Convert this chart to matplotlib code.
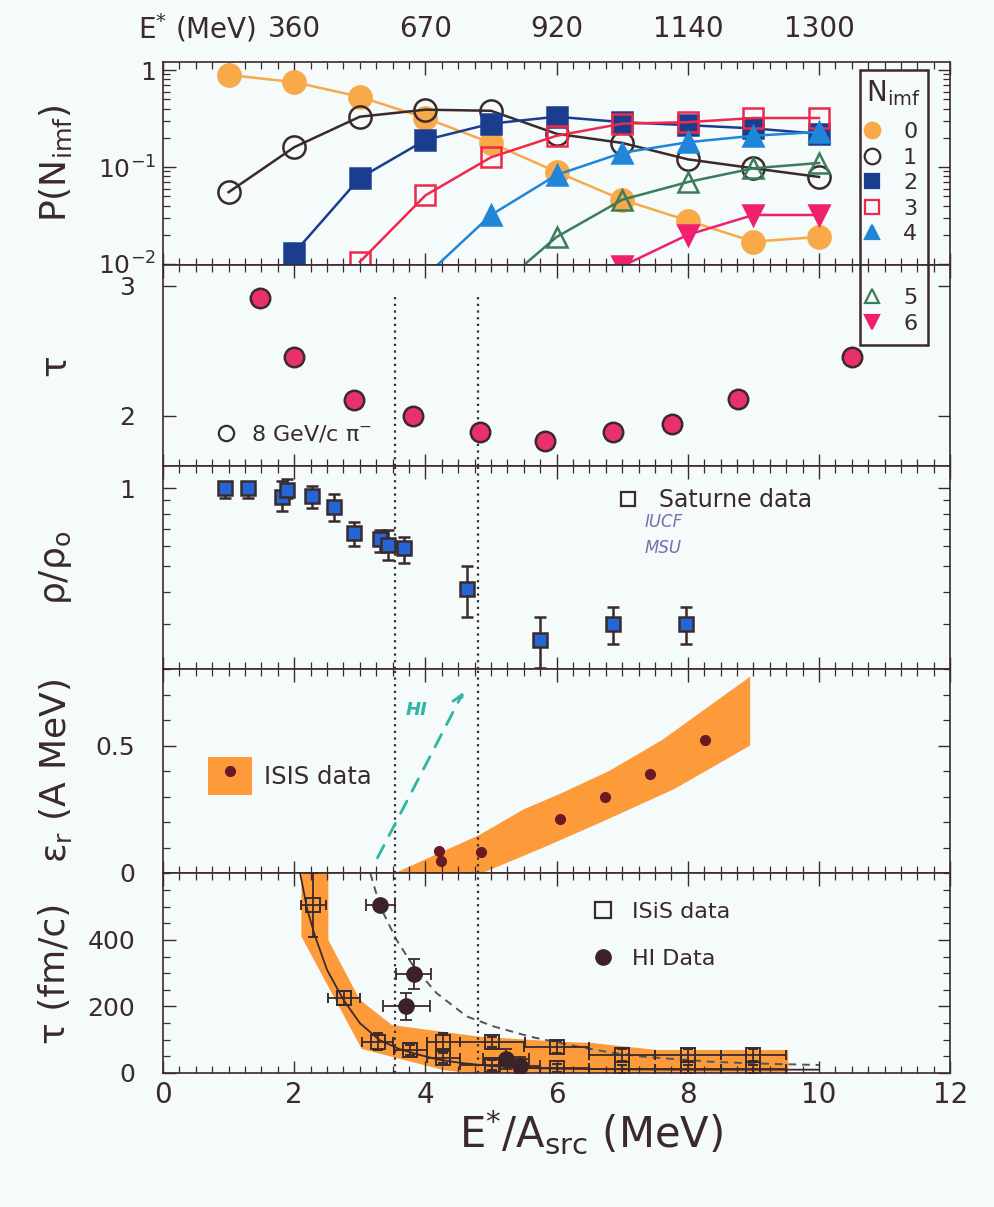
import matplotlib
matplotlib.use("Agg")
import matplotlib.pyplot as plt
import numpy as np
from matplotlib.lines import Line2D
from matplotlib.patches import Patch, Rectangle
from matplotlib.legend_handler import HandlerTuple
from matplotlib.ticker import MultipleLocator, LogLocator, NullFormatter, NullLocator

plt.rcParams['font.family'] = ['DejaVu Sans']
plt.rcParams['mathtext.default'] = 'regular'

INK = '#3b2a2c'
BG = '#f5fafa'
BAND = '#fd9a3a'

# ---------------- data ----------------
# top axis: E* (MeV) at E*/A positions
top_pos = [2, 4, 6, 8, 10]
top_labels = ['360', '670', '920', '1140', '1300']

# panel 1: P(N_imf)
n0_x = [1, 2, 3, 4, 5, 6, 7, 8, 9, 10]
n0_p = [0.89, 0.75, 0.53, 0.32, 0.177, 0.089, 0.046, 0.028, 0.017, 0.019]
n1_x = [1, 2, 3, 4, 5, 6, 7, 8, 9, 10]
n1_p = [0.055, 0.16, 0.33, 0.39, 0.38, 0.22, 0.177, 0.12, 0.097, 0.079]
n2_x = [2, 3, 4, 5, 6, 7, 8, 9, 10]
n2_p = [0.013, 0.077, 0.19, 0.28, 0.33, 0.29, 0.27, 0.25, 0.22]
n3_x = [3, 4, 5, 6, 7, 8, 9, 10]
n3_p = [0.0105, 0.051, 0.126, 0.21, 0.28, 0.29, 0.32, 0.32]
n4_x = [4, 5, 6, 7, 8, 9, 10]
n4_p = [0.0075, 0.032, 0.083, 0.14, 0.18, 0.21, 0.23]
n5_x = [5, 6, 7, 8, 9, 10]
n5_p = [0.005, 0.019, 0.046, 0.07, 0.097, 0.11]
n6_x = [7, 8, 9, 10]
n6_p = [0.0095, 0.020, 0.032, 0.032]
nimf_labels = ['0', '1', '2', '3', '4', '5', '6']

# panel 2: tau (8 GeV/c pi-)
tau_x = [1.48, 1.99, 2.91, 3.81, 4.83, 5.82, 6.86, 7.76, 8.76, 10.5]
tau_y = [2.91, 2.45, 2.12, 2.00, 1.88, 1.81, 1.88, 1.94, 2.13, 2.45]

# dotted guide lines
guide_x = [3.54, 4.80]

# panel 3: rho/rho0 (Saturne)
rho_x = [0.95, 1.30, 1.81, 1.89, 2.27, 2.60, 2.91, 3.30, 3.43, 3.68, 4.64, 5.75, 6.86, 7.97]
rho_y = [1.00, 1.00, 0.93, 0.99, 0.935, 0.85, 0.673, 0.636, 0.604, 0.587, 0.409, 0.26, 0.30, 0.30]
rho_lo = [0.92, 0.92, 0.82, 0.915, 0.84, 0.75, 0.60, 0.57, 0.53, 0.515, 0.32, 0.203, 0.25, 0.25]
rho_hi = [1.06, 1.06, 1.07, 1.09, 1.02, 0.955, 0.74, 0.69, 0.69, 0.65, 0.50, 0.32, 0.35, 0.35]

# panel 4: epsilon_r (ISIS)
eps_x = [4.21, 4.23, 4.85, 6.05, 6.73, 7.42, 8.26]
eps_y = [0.088, 0.047, 0.084, 0.21, 0.30, 0.39, 0.52]
eps_up_x = [3.54, 4.83, 5.5, 6.05, 6.8, 7.6, 8.95]
eps_up_y = [0.0, 0.15, 0.25, 0.31, 0.40, 0.52, 0.77]
eps_lo_x = [4.87, 5.8, 6.6, 7.8, 8.95]
eps_lo_y = [0.0, 0.10, 0.19, 0.33, 0.50]
hi_arrow_x = [3.25, 4.6]
hi_arrow_y = [0.05, 0.72]

# panel 5: tau (fm/c)
tband_x = [2.11, 2.52, 2.52, 3.0, 3.49, 4.83, 6.05, 6.55, 7.53, 9.53,
           9.53, 4.63, 4.27, 3.03, 2.11]
tband_y = [601, 601, 400, 220, 144, 109, 94, 90, 69, 69,
           0, 0, 9, 72, 410]
fit_x = [2.09, 2.2, 2.32, 2.5, 2.75, 3.0, 3.3, 3.6, 3.9, 4.2, 4.55, 5.0, 5.4, 6.0, 7.0, 8.0, 9.0, 10.0]
fit_y = [600, 490, 410, 310, 220, 150, 99, 72, 55, 40, 30, 21, 16, 13, 11, 10, 10, 10]
hifit_x = [3.16, 3.31, 3.56, 3.82, 4.17, 4.63, 5.04, 5.6, 6.3, 6.81, 7.32, 8.34, 8.84, 9.35, 10.0]
hifit_y = [600, 500, 400, 320, 240, 170, 140, 109, 80, 62, 49, 34, 30, 27, 24]
isis_x = [2.29, 2.76, 3.27, 3.77, 4.27, 4.27, 5.02, 5.02, 6.0, 6.0, 7.0, 7.0, 8.0, 8.0, 9.0, 9.0]
isis_y = [505, 225, 94, 69, 94, 44, 94, 24, 78, 15, 54, 12, 54, 12, 54, 12]
isis_xerr = [0.19, 0.24, 0.24, 0.25, 0.25, 0.25, 0.5, 0.5, 0.5, 0.5, 0.5, 0.5, 0.5, 0.5, 0.5, 0.5]
isis_yerr = [95, 20, 25, 15, 25, 15, 15, 15, 18, 12, 18, 12, 18, 12, 18, 12]
hi_x = [3.31, 3.82, 3.71, 5.23, 5.44]
hi_y = [505, 298, 200, 42, 22]
hi_xerr = [0.22, 0.27, 0.36, 0.35, 0.3]
hi_yerr = [0, 45, 40, 30, 25]

# ---------------- figure ----------------
fig = plt.figure(figsize=(9.94, 12.07), dpi=100, facecolor=BG)
H = 1207.0
edges = [62, 265, 466, 669, 873, 1073]
axes = []
for i in range(5):
    t, b = edges[i], edges[i + 1]
    ax = fig.add_axes([0.164, 1 - b / H, 0.792, (b - t) / H])
    ax.set_facecolor(BG)
    ax.set_xlim(0, 12)
    ax.xaxis.set_major_locator(MultipleLocator(2))
    ax.xaxis.set_minor_locator(MultipleLocator(0.25))
    ax.tick_params(which='both', direction='in', top=True, right=True,
                   color=INK, labelcolor=INK, labelsize=18)
    ax.tick_params(which='major', length=9, width=1.0)
    ax.tick_params(which='minor', length=5, width=0.9)
    ax.tick_params(axis='y', pad=20)
    ax.tick_params(axis='x', labelsize=20, pad=6)
    for s in ax.spines.values():
        s.set_color(INK)
        s.set_linewidth(1.2)
    if i < 4:
        ax.tick_params(labelbottom=False)
    axes.append(ax)
ax1, ax2, ax3, ax4, ax5 = axes

# ---- panel 1 ----
styles = [
    (n0_x, n0_p, 'o', '#f8a94a', '#f8a94a', 16),
    (n1_x, n1_p, 'o', 'none', INK, 16),
    (n2_x, n2_p, 's', '#1a3d8f', '#1a3d8f', 14),
    (n3_x, n3_p, 's', 'none', '#f0284a', 14),
    (n4_x, n4_p, '^', '#1f86d8', '#1f86d8', 15),
    (n5_x, n5_p, '^', 'none', '#3b7d5a', 15),
    (n6_x, n6_p, 'v', '#f0206e', '#f0206e', 15),
]
handles = []
for x, p, m, fc, ec, ms in styles:
    ax1.plot(x, p, color=ec, lw=1.8, marker=m, ms=ms, mfc=fc, mec=ec, mew=1.8)
    handles.append(Line2D([], [], ls='none', marker=m, ms=ms * 0.7, mfc=fc, mec=ec, mew=1.6))
ax1.set_yscale('log')
ax1.set_ylim(0.00976, 1.21)
ax1.set_yticks([0.01, 0.1, 1], labels=['$10^{-2}$', '$10^{-1}$', r'$1\quad$'])
ax1.yaxis.set_minor_locator(LogLocator(base=10, subs=np.arange(2, 10)))
ax1.yaxis.set_minor_formatter(NullFormatter())
ax1.tick_params(axis='y', pad=5)
ax1.set_ylabel(r'P(N$_{imf}$)', fontsize=26, color=INK)

sec = ax1.secondary_xaxis('top')
sec.set_xticks(top_pos, labels=top_labels)
sec.xaxis.set_minor_locator(NullLocator())
sec.tick_params(length=0, pad=14, labelsize=20, labelcolor=INK)
sec.spines['top'].set_visible(False)
fig.text(0.198, 0.977, r'E$^{*}$ (MeV)', fontsize=20, color=INK, ha='center', va='center')

leg_kw = dict(frameon=False, fontsize=16, handlelength=1.0, handletextpad=0.9,
              labelspacing=0.25, borderpad=0, borderaxespad=0, labelcolor=INK)
fig.text(893 / 994, 1 - 93 / H, r'N$_{imf}$', fontsize=20, color=INK, ha='center', va='center')
fig.legend(handles[:5], nimf_labels[:5], loc='upper left',
           bbox_to_anchor=(0.866, 1 - 122 / H), **leg_kw)
fig.legend(handles[5:], nimf_labels[5:], loc='upper left',
           bbox_to_anchor=(0.866, 1 - 288 / H), **leg_kw)
fig.add_artist(Rectangle((860 / 994, 1 - 345 / H), 68 / 994, 275 / H,
                         transform=fig.transFigure, fill=False, ec=INK, lw=1.8, zorder=6))

# ---- panel 2 ----
ax2.plot(tau_x, tau_y, ls='none', marker='o', ms=14, mfc='#e8306a', mec=INK, mew=1.8, zorder=4)
ax2.set_ylim(1.615, 3.16)
ax2.set_yticks([2, 3])
ax2.yaxis.set_minor_locator(NullLocator())
ax2.set_ylabel('τ', fontsize=26, color=INK)
ax2.legend([Line2D([], [], ls='none', marker='o', ms=11, mfc='none', mec=INK, mew=1.6)],
           ['8 GeV/c π$^{-}$'], loc='center left', bbox_to_anchor=(0.066, 0.16),
           frameon=False, fontsize=16, handlelength=1.0, handletextpad=0.6,
           borderpad=0, borderaxespad=0, labelcolor=INK)
for gx in guide_x:
    ax2.axvline(gx, ymax=0.86, color=INK, ls=(0, (1, 2)), lw=1.6, zorder=3)

# ---- panel 3 ----
rho_err = [np.array(rho_y) - np.array(rho_lo), np.array(rho_hi) - np.array(rho_y)]
ax3.errorbar(rho_x, rho_y, yerr=rho_err, fmt='s', ms=10, mfc='#2466d6', mec=INK, mew=1.8,
             ecolor=INK, elinewidth=1.8, capsize=4.5, capthick=1.8, zorder=4)
ax3.set_yscale('log')
ax3.set_ylim(0.201, 1.22)
ax3.set_yticks([1], labels=['1'])
ax3.yaxis.set_minor_locator(LogLocator(base=10, subs=np.arange(2, 10)))
ax3.yaxis.set_minor_formatter(NullFormatter())
ax3.set_ylabel(r'ρ/ρ$_{o}$', fontsize=26, color=INK)
ax3.legend([Line2D([], [], ls='none', marker='s', ms=10, mfc='none', mec=INK, mew=1.6)],
           ['Saturne data'], loc='center left', bbox_to_anchor=(0.576, 0.833),
           frameon=False, fontsize=17, handlelength=1.0, handletextpad=0.8,
           borderpad=0, borderaxespad=0, labelcolor=INK)
ax3.text(0.612, 0.724, 'IUCF', transform=ax3.transAxes, fontsize=12, style='italic',
         color='#7670ae', va='center')
ax3.text(0.612, 0.596, 'MSU', transform=ax3.transAxes, fontsize=12, style='italic',
         color='#7670ae', va='center')
for gx in guide_x:
    ax3.axvline(gx, color=INK, ls=(0, (1, 2)), lw=1.6, zorder=3)

# ---- panel 4 ----
ax4.fill(np.r_[eps_up_x, eps_lo_x[::-1]], np.r_[eps_up_y, eps_lo_y[::-1]],
         color=BAND, lw=0, zorder=1)
ax4.plot(eps_x, eps_y, ls='none', marker='o', ms=7, color='#6b1a25', zorder=4)
ax4.set_ylim(0, 0.8)
ax4.set_yticks([0, 0.5], labels=['0', '0.5'])
ax4.yaxis.set_minor_locator(MultipleLocator(0.1))
ax4.set_ylabel(r'ε$_{r}$ (A MeV)', fontsize=26, color=INK)
ax4.annotate('', xy=(hi_arrow_x[1], hi_arrow_y[1]), xytext=(hi_arrow_x[0], hi_arrow_y[0]),
             arrowprops=dict(arrowstyle='->', color='#2fb5a5', lw=2.0, ls=(0, (5, 4)),
                             mutation_scale=18), zorder=5)
ax4.text(3.87, 0.64, 'HI', fontsize=13, style='italic', fontweight='bold',
         color='#2fb5a5', ha='center', va='center')
isis_h = (Patch(facecolor=BAND, edgecolor='none'),
          Line2D([], [], ls='none', marker='o', ms=7, color='#6b1a25'))
ax4.legend([isis_h], ['ISIS data'], handler_map={tuple: HandlerTuple(ndivide=1)},
           loc='center left', bbox_to_anchor=(0.057, 0.475), frameon=False, fontsize=17.5,
           handlelength=1.8, handleheight=2.0, handletextpad=0.5,
           borderpad=0, borderaxespad=0, labelcolor=INK)
for gx in guide_x:
    ax4.axvline(gx, color=INK, ls=(0, (1, 2)), lw=1.6, zorder=3)

# ---- panel 5 ----
ax5.fill(tband_x, tband_y, color=BAND, lw=0, zorder=1)
ax5.plot(fit_x, fit_y, color=INK, lw=1.3, zorder=3)
ax5.plot(hifit_x, hifit_y, color='#555555', lw=1.4, ls=(0, (4, 3)), zorder=3)
ax5.errorbar(isis_x, isis_y, xerr=isis_xerr, yerr=isis_yerr, fmt='s', ms=10, mfc='none',
             mec=INK, mew=1.4, ecolor=INK, elinewidth=1.3, capsize=3.5, capthick=1.3, zorder=4)
ax5.errorbar(hi_x, hi_y, xerr=hi_xerr, yerr=hi_yerr, fmt='o', ms=11, mfc='#3a2228',
             mec='#3a2228', ecolor=INK, elinewidth=1.3, capsize=4, capthick=1.3, zorder=5)
ax5.set_ylim(0, 601)
ax5.set_yticks([0, 200, 400])
ax5.yaxis.set_minor_locator(MultipleLocator(50))
ax5.set_ylabel('τ (fm/c)', fontsize=26, color=INK)
ax5.set_xlabel(r'E$^{*}$/A$_{src}$ (MeV)', fontsize=30, color=INK)
ax5.xaxis.set_label_coords(0.543, -0.17)
ax5.legend([Line2D([], [], ls='none', marker='s', ms=11, mfc='none', mec=INK, mew=1.6),
            Line2D([], [], ls='none', marker='o', ms=11, color='#3a2228')],
           ['ISiS data', 'HI Data'], loc='upper left', bbox_to_anchor=(0.545, 0.855),
           frameon=False, fontsize=16, handlelength=1.0, handletextpad=0.8,
           labelspacing=1.2, borderpad=0, borderaxespad=0, labelcolor=INK)
for gx in guide_x:
    ax5.axvline(gx, color=INK, ls=(0, (1, 2)), lw=1.6, zorder=3)

for ax in axes:
    ax.yaxis.set_label_coords(-0.137, 0.5)
    ax.yaxis.label.set_verticalalignment('center')

fig.savefig('out.png', dpi=100, facecolor=BG)
